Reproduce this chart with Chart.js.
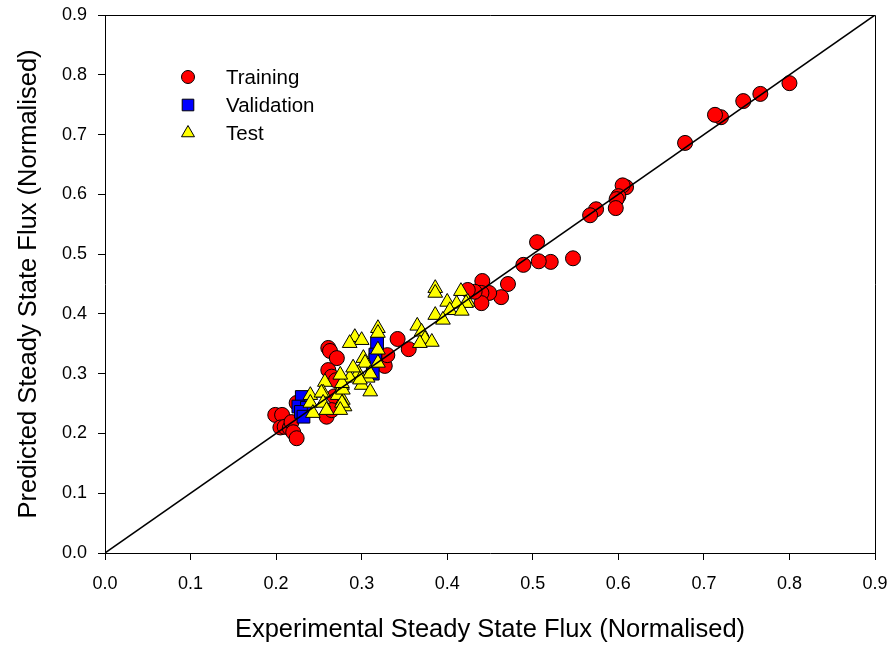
<!DOCTYPE html>
<html>
<head>
<meta charset="utf-8">
<script src="https://cdn.jsdelivr.net/npm/chart.js@4/dist/chart.umd.min.js"></script>
<style>
  html, body { margin: 0; padding: 0; background: #fff; }
  #wrap { width: 893px; height: 645px; }
</style>
</head>
<body>
<div id="wrap"><canvas id="cv"></canvas></div>
<script>
// ===== data (normalised flux: [experimental, predicted]) =====
const TICKS = [0.0, 0.1, 0.2, 0.3, 0.4, 0.5, 0.6, 0.7, 0.8, 0.9];
const PARITY = [[0, 0], [0.9, 0.9]];

const TRAINING = [
  [0.800,0.786],[0.766,0.768],[0.746,0.756],[0.720,0.729],[0.713,0.733],
  [0.678,0.686],[0.609,0.612],[0.605,0.615],[0.600,0.597],[0.598,0.592],
  [0.597,0.577],[0.574,0.575],[0.567,0.565],[0.547,0.493],[0.521,0.487],
  [0.507,0.488],[0.505,0.520],[0.489,0.482],[0.471,0.450],[0.463,0.428],
  [0.449,0.435],[0.441,0.455],[0.440,0.435],[0.440,0.418],[0.432,0.437],
  [0.424,0.440],[0.355,0.341],[0.342,0.358],[0.327,0.313],[0.330,0.331],
  [0.261,0.343],[0.263,0.338],[0.271,0.326],[0.261,0.306],[0.265,0.295],
  [0.270,0.289],[0.268,0.262],[0.259,0.228],[0.265,0.239],[0.224,0.251],
  [0.199,0.231],[0.207,0.231],[0.205,0.210],[0.210,0.211],[0.216,0.209],
  [0.218,0.219],[0.220,0.202],[0.224,0.192]
];

const VALIDATION = [
  [0.318,0.351],[0.316,0.332],[0.316,0.323],[0.313,0.300],
  [0.230,0.261],[0.226,0.245],[0.236,0.243],[0.229,0.236],[0.232,0.228]
];

const TEST = [
  [0.386,0.443],[0.386,0.435],[0.416,0.438],[0.424,0.420],[0.422,0.418],
  [0.400,0.420],[0.411,0.417],[0.403,0.406],[0.417,0.405],[0.386,0.398],
  [0.395,0.390],[0.365,0.380],[0.370,0.370],[0.374,0.358],[0.382,0.353],
  [0.368,0.351],[0.319,0.376],[0.319,0.368],[0.292,0.361],[0.300,0.356],
  [0.286,0.351],[0.319,0.340],[0.302,0.326],[0.304,0.318],[0.319,0.318],
  [0.296,0.301],[0.307,0.293],[0.300,0.281],[0.310,0.270],[0.286,0.293],
  [0.277,0.281],[0.257,0.286],[0.255,0.268],[0.278,0.256],[0.280,0.245],
  [0.240,0.264],[0.240,0.251],[0.243,0.234],[0.253,0.268],[0.255,0.251],
  [0.259,0.239],[0.272,0.264],[0.277,0.251],[0.275,0.239],[0.278,0.273],
  [0.277,0.284],[0.275,0.298],[0.290,0.310],[0.310,0.300],[0.298,0.290]
];

const FONT = "'Liberation Sans', Arial, Helvetica, sans-serif";
const pts = a => a.map(p => ({x: p[0], y: p[1]}));

// legend entries drawn inside the plot
const LEGEND = [
  {text:'Training',   style:'circle',   radius:6.5, fill:'#ff0000'},
  {text:'Validation', style:'rect',     radius:8.2, fill:'#0000ff'},
  {text:'Test',       style:'triangle', radius:7.5, fill:'#ffff00'}
];

/* box around the plot + inner legend */
const framePlugin = {
  id:'frame',
  afterDraw(chart){
    const {ctx, chartArea:a} = chart;
    ctx.save();
    ctx.strokeStyle = '#000'; ctx.lineWidth = 1;
    ctx.beginPath();
    ctx.moveTo(a.left, a.top + 0.5); ctx.lineTo(a.right + 0.5, a.top + 0.5);
    ctx.lineTo(a.right + 0.5, a.bottom);
    ctx.stroke();

    const x0 = a.left + 83, y0 = a.top + 62, step = 28;
    ctx.font = '20.5px ' + FONT;
    ctx.textBaseline = 'middle';
    LEGEND.forEach((l, i) => {
      const y = y0 + i * step;
      ctx.fillStyle = l.fill; ctx.strokeStyle = '#000'; ctx.lineWidth = 1;
      Chart.helpers.drawPoint(ctx, {pointStyle:l.style, radius:l.radius, borderWidth:1}, x0, y);
      ctx.fillStyle = '#000';
      ctx.fillText(l.text, x0 + 38, y + 1);
    });
    ctx.restore();
  }
};

function axis(titleText, isY){
  return {
    type:'linear', min:0, max:0.9,
    afterBuildTicks: s => { s.ticks = TICKS.map(v => ({value:v})); },
    afterFit: s => {
      if (isY) s.width = 105; else s.height = 92;
      // end labels may overhang; the layout padding already leaves room
      s.paddingTop = s.paddingBottom = s.paddingLeft = s.paddingRight = 0;
    },
    grid:{ drawOnChartArea:false, drawTicks:true, tickLength:7, color:'#000', lineWidth:1 },
    border:{ display:true, color:'#000', width:1 },
    ticks:{
      color:'#000', font:{family:FONT, size:18},
      padding: isY ? 11 : 13,
      maxRotation:0, autoSkip:false,
      callback: v => Number(v).toFixed(1)
    },
    title:{
      display:true, text:titleText, color:'#000',
      font:{family:FONT, size:25.5, lineHeight:1.2},
      padding: isY ? {top:14, bottom:0} : {top:0, bottom:0}
    }
  };
}

new Chart(document.getElementById('cv'), {
  type:'scatter',
  data:{
    datasets:[
      {label:'parity', data:pts(PARITY), showLine:true, borderColor:'#000', borderWidth:1.5,
       pointRadius:0, fill:false, order:0},
      {label:'Test', data:pts(TEST), pointStyle:'triangle', pointRadius:8.5,
       backgroundColor:'#ffff00', borderColor:'#000', borderWidth:1, order:1},
      {label:'Validation', data:pts(VALIDATION), pointStyle:'rect', pointRadius:9,
       backgroundColor:'#0000ff', borderColor:'#000', borderWidth:1, order:2},
      {label:'Training', data:pts(TRAINING), pointStyle:'circle', pointRadius:7.5,
       backgroundColor:'#ff0000', borderColor:'#000', borderWidth:1, order:3}
    ]
  },
  options:{
    responsive:true, maintainAspectRatio:false, animation:false,
    layout:{ padding:{left:0, right:18, top:15, bottom:0} },
    plugins:{ legend:{display:false}, tooltip:{enabled:false} },
    elements:{ point:{ hoverRadius:7 } },
    scales:{
      x: axis('Experimental Steady State Flux (Normalised)', false),
      y: axis('Predicted Steady State Flux (Normalised)', true)
    }
  },
  plugins:[framePlugin]
});
</script>
</body>
</html>
